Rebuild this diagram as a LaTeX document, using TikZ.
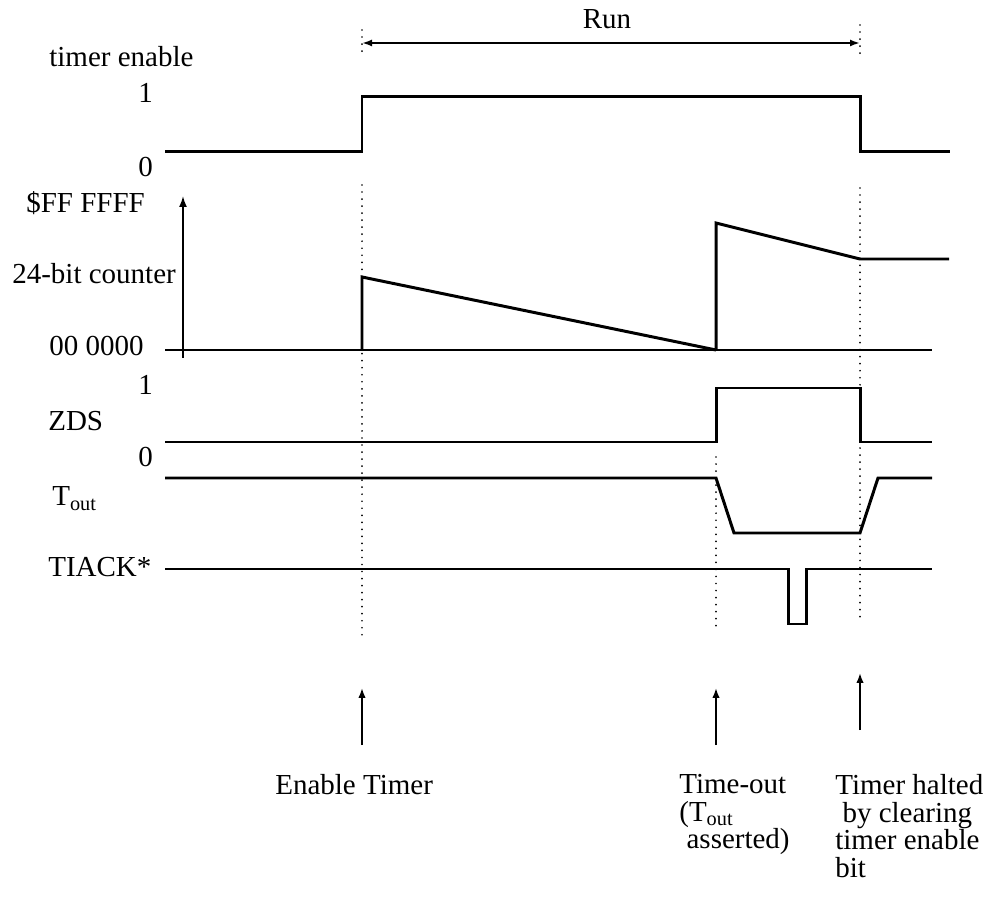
\documentclass[tikz,border=0pt]{standalone}
\usepackage{fontspec}
\setmainfont{Liberation Serif}
\usetikzlibrary{arrows.meta}
\tikzset{
  sigline/.style={line width=1.7pt,line join=miter},
  guideline/.style={line width=1.1pt,line cap=round,dash pattern=on 0pt off 4pt},
  axisarrow/.style={-{Latex[length=2.2mm,width=1.6mm]},line width=1pt},
  runarrow/.style={{Latex[length=2mm,width=1.4mm]}-{Latex[length=2mm,width=1.4mm]},line width=1.1pt},
  eventarrow/.style={-{Latex[length=2mm,width=1.5mm]},line width=1pt},
  sigtext/.style={anchor=base west,inner sep=0pt,font={\fontsize{16.5}{16}\selectfont}},
  notetext/.style={anchor=north west,inner sep=0pt,align=left,font={\fontsize{16.5}{15.7}\selectfont}}
}

\begin{document}
\begin{tikzpicture}[x=0.02cm,y=-0.02cm]
\useasboundingbox (0,0) rectangle (1004,911);

% dotted guides at the three events
\draw[guideline] (362,30) -- (362,55);
\draw[guideline] (860,25) -- (860,60);
\foreach \x/\a/\b in {362/185/638,716/457/628,860/188/622}
  \draw[guideline] (\x,\a) -- (\x,\b);

% run interval
\coordinate (runL) at (362,43);
\coordinate (runR) at (860,43);
\draw[runarrow] (runL) -- (runR);
\node[anchor=base,inner sep=0pt,font={\fontsize{16.5}{16}\selectfont}] (run) at (607,29) {Run};

% timer enable
\node[sigtext] (tenLbl) at (49,67) {timer enable};
\node[sigtext] (tenHi) at (138,103) {1};
\node[sigtext] (tenLo) at (138,177) {0};
\draw[sigline] (165,152) -- (362,152) -- (362,97) -- (860,97) -- (860,152) -- (950,152);

% 24-bit counter
\node[sigtext] (cntMax) at (26,213) {\$FF FFFF};
\node[sigtext] (cntLbl) at (12,284) {24-bit counter};
\node[sigtext] (cntMin) at (49,356) {00 0000};
\coordinate (axBot) at (183,358);
\coordinate (axTop) at (183,196);
\draw[axisarrow] (axBot) -- (axTop);
\draw[sigline] (165,350) -- (932,350);
\draw[sigline] (362,350) -- (362,277) -- (716,350);
\draw[sigline] (716,350) -- (716,223) -- (860,259) -- (949,259);

% ZDS
\node[sigtext] (zdsHi) at (138,395) {1};
\node[sigtext] (zdsLbl) at (48,431) {ZDS};
\node[sigtext] (zdsLo) at (138,467) {0};
\draw[sigline] (165,442) -- (716,442) -- (716,388) -- (860,388) -- (860,442) -- (932,442);

% Tout
\node[sigtext] (toutLbl) at (52,506) {T\textsubscript{out}};
\draw[sigline] (165,478) -- (716,478) -- (734,533) -- (860,533) -- (878,478) -- (932,478);

% TIACK*
\node[sigtext] (tiackLbl) at (48,577) {TIACK*};
\draw[sigline] (165,569) -- (788,569) -- (788,624) -- (806,624) -- (806,569) -- (932,569);

% events
\coordinate (enFoot) at (362,745);
\coordinate (enTip) at (362,688);
\coordinate (toFoot) at (716,745);
\coordinate (toTip) at (716,688);
\coordinate (hlFoot) at (860,730);
\coordinate (hlTip) at (860,673);
\draw[eventarrow] (enFoot) -- (enTip);
\draw[eventarrow] (toFoot) -- (toTip);
\draw[eventarrow] (hlFoot) -- (hlTip);

\node[sigtext] (enNote) at (275,794) {Enable Timer};
\node[notetext] (toNote) at (679,774) {Time-out\\(T\textsubscript{out}\\\hspace*{0.25em}asserted)};
\node[notetext] (hlNote) at (835,774) {Timer halted\\\hspace*{0.25em}by clearing\\timer enable\\bit};
\end{tikzpicture}
\end{document}
